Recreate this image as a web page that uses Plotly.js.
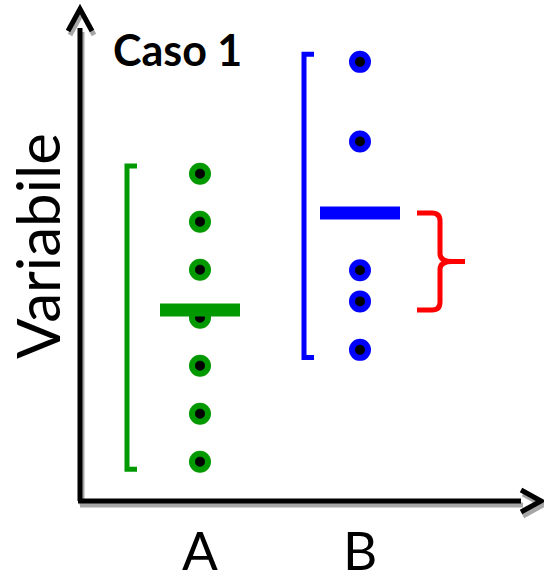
<!DOCTYPE html>
<html>
<head>
<meta charset="utf-8">
<script src="https://cdn.plot.ly/plotly-3.0.1.min.js"></script>
<style>html,body{margin:0;padding:0;background:#fff;}#chart{width:544px;height:581px;}</style>
</head>
<body>
<div id="chart"></div>
<script>
// ---- data ----
const categories = ['A', 'B'];
const groupA = [1, 2, 3, 4, 5, 6, 7];
const groupB = [9.33, 7.67, 4.99, 4.34, 3.33];
const groupMeans = [4.16, 6.18];
const groupColors = ['#009900', '#0000ff'];
const chartTitle = 'Caso 1';
const yTitle = 'Variabile';

// ---- layout geometry ----
const W = 544, H = 581;
const mL = 80, mB = 80, mT = 0, mR = 0;
const plotW = W - mL - mR, plotH = H - mT - mB;
const xr = [0.25, 3.15];
const yr = [0.181, 10.619];
const pxPerX = plotW / (xr[1] - xr[0]);
const pxPerY = plotH / (yr[1] - yr[0]);
// pixel -> paper helpers for decorations
const PX = px => (px - mL) / plotW;
const PY = py => (H - mB - py) / plotH;

const groups = [groupA, groupB];
const bracketOffset = [-73, -56]; // px left of category
const bracketTick = 10;
const bracketPad = 0.16;

const traces = [];
groups.forEach((vals, i) => {
  const cx = i + 1;
  const lo = Math.min(...vals) - bracketPad;
  const hi = Math.max(...vals) + bracketPad;
  const bxL = cx + bracketOffset[i] / pxPerX;
  const bxR = bxL + bracketTick / pxPerX;
  traces.push({
    x: [bxR, bxL, bxL, bxR], y: [hi, hi, lo, lo],
    mode: 'lines', line: {color: groupColors[i], width: 5},
    hoverinfo: 'skip', showlegend: false
  });
  traces.push({
    x: vals.map(() => cx), y: vals,
    mode: 'markers', type: 'scatter',
    marker: {size: 16, color: '#000', line: {color: groupColors[i], width: 6}},
    name: categories[i], showlegend: false
  });
  traces.push({
    x: [cx - 40 / pxPerX, cx + 40 / pxPerX], y: [groupMeans[i], groupMeans[i]],
    mode: 'lines', line: {color: groupColors[i], width: 13},
    hoverinfo: 'skip', showlegend: false
  });
});

// curly brace between the two means
const bxc = 2;
const T = groupMeans[1], Bm = groupMeans[0], Mm = (T + Bm) / 2;
const X = dpx => bxc + dpx / pxPerX;
const dy = dpx => dpx / pxPerY;
const bracePath =
  `M${X(57)},${T} L${X(72)},${T} Q${X(80)},${T} ${X(80)},${T - dy(8)} ` +
  `L${X(80)},${Mm + dy(8)} Q${X(80)},${Mm} ${X(92)},${Mm} L${X(105)},${Mm} ` +
  `M${X(92)},${Mm} Q${X(80)},${Mm} ${X(80)},${Mm - dy(8)} ` +
  `L${X(80)},${Bm + dy(8)} Q${X(80)},${Bm} ${X(72)},${Bm} L${X(57)},${Bm}`;

// axes with arrows (decoration) in pixel->paper
function seg(x0, y0, x1, y1, color, width) {
  return {type: 'line', xref: 'paper', yref: 'paper', x0: PX(x0), y0: PY(y0), x1: PX(x1), y1: PY(y1),
          line: {color: color, width: width}, layer: 'above'};
}
function pathP(pts, color, width) {
  const d = pts.map((p, k) => (k ? 'L' : 'M') + PX(p[0]) + ',' + PY(p[1])).join(' ');
  return {type: 'path', xref: 'paper', yref: 'paper', path: d, line: {color: color, width: width}};
}
const shadow = '#a6a6a6', sdx = 2, sdy = 4;
const axisShapes = [];
[[shadow, sdx, sdy], ['#000', 0, 0]].forEach(([c, ox, oy]) => {
  axisShapes.push(seg(80 + ox, 501 + oy, 80 + ox, 28 + oy, c, 5));
  axisShapes.push(seg(78 + ox, 501 + oy, 521 + ox, 501 + oy, c, 5));
  axisShapes.push(pathP([[68 + ox, 31 + oy], [80 + ox, 9 + oy], [92 + ox, 31 + oy]], c, 5));
  axisShapes.push(pathP([[521 + ox, 490 + oy], [541 + ox, 501 + oy], [521 + ox, 512 + oy]], c, 5));
});

const layout = {
  width: W, height: H,
  margin: {l: mL, r: mR, t: mT, b: mB, pad: 0},
  paper_bgcolor: '#fff', plot_bgcolor: '#fff',
  font: {family: 'Lato, "Open Sans", sans-serif', color: '#000'},
  title: {
    text: '<b>' + chartTitle + '</b>',
    font: {family: 'Lato, sans-serif', size: 43, color: '#000'},
    xref: 'paper', x: PX(113), xanchor: 'left',
    yref: 'container', y: 1 - 51 / H, yanchor: 'middle'
  },
  xaxis: {
    range: xr, showgrid: false, zeroline: false, showline: false,
    tickmode: 'array', tickvals: categories.map((c, i) => i + 1), ticktext: categories,
    ticks: '', tickfont: {family: 'Lato, sans-serif', size: 53, color: '#000'},
    ticklabelstandoff: 15, fixedrange: true
  },
  yaxis: {
    range: yr, showgrid: false, zeroline: false, showline: false,
    showticklabels: false, ticks: '', fixedrange: true
  },
  shapes: axisShapes.concat([{
    type: 'path', xref: 'x', yref: 'y', path: bracePath,
    line: {color: '#ff0000', width: 5}
  }]),
  annotations: [{
    text: yTitle, textangle: -90, showarrow: false,
    xref: 'paper', yref: 'paper', x: PX(37), y: PY(246),
    xanchor: 'center', yanchor: 'middle',
    font: {family: 'Lato, sans-serif', size: 60, color: '#000'}
  }]
};

Plotly.newPlot('chart', traces, layout, {displayModeBar: false, staticPlot: true});
</script>
</body>
</html>
